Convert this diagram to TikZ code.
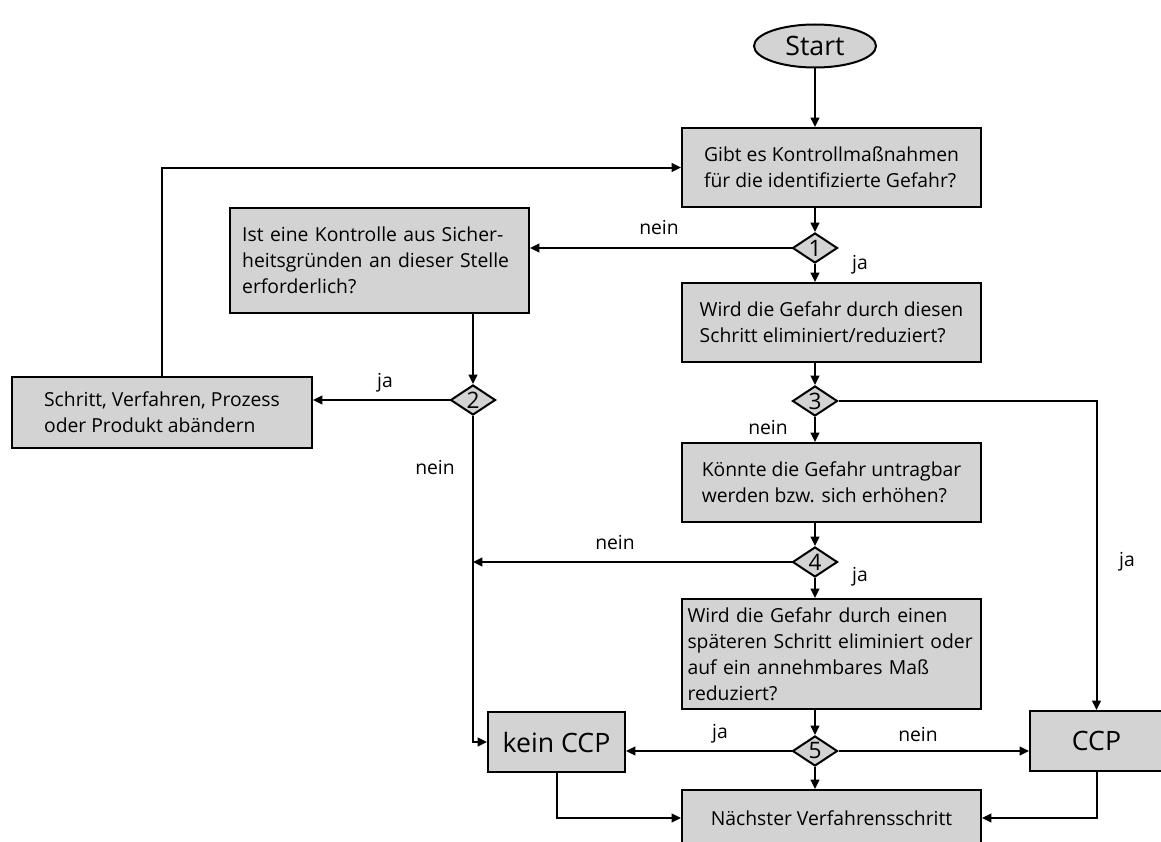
\documentclass[tikz,border=0pt]{standalone}
\usepackage{fontspec}
\setmainfont{Open Sans}
\usetikzlibrary{arrows.meta,shapes.geometric,positioning}
\definecolor{boxgray}{RGB}{211,211,211}
\newcommand{\jline}[1]{\makebox[\linewidth][s]{#1}}
\tikzset{
  box/.style={draw,fill=boxgray,line width=1.5pt,align=left,inner ysep=4pt,
    minimum width=224.25pt,font=\fontsize{14.5}{19.5}\selectfont},
  decision/.style={diamond,draw,fill=boxgray,line width=1.5pt,aspect=1.5,inner sep=0pt,
    minimum width=33.75pt,minimum height=22.5pt,font=\fontsize{17}{17}\selectfont},
  terminal/.style={ellipse,draw,fill=boxgray,line width=1.5pt,inner sep=0pt,
    minimum width=91.5pt,minimum height=32.25pt,font=\fontsize{20}{20}\selectfont},
  result/.style={draw,fill=boxgray,line width=1.5pt,inner sep=0pt,
    font=\fontsize{20}{20}\selectfont},
  lbl/.style={font=\fontsize{14.5}{17}\selectfont,inner sep=1pt},
  arr/.style={line width=1.5pt,-{Triangle[length=7pt,width=6.5pt]}}
}
\begin{document}
\begin{tikzpicture}[x=0.75pt,y=-0.75pt]
  \useasboundingbox (0,0) rectangle (1161,842);
  \clip (0,0) rectangle (1161,842);
  % main column
  \node[terminal] (start) at (815,46) {Start};
  \node[box,minimum height=59.25pt] (kontroll) at (831.5,167.5)
    {Gibt es Kontrollmaßnahmen\\für die identifizierte Gefahr?};
  \node[decision] (d1) at (815,248) {1};
  \node[box,minimum height=59.25pt] (elim) at (831.5,322.5)
    {Wird die Gefahr durch diesen\\Schritt eliminiert/reduziert?};
  \node[decision] (d3) at (815,401) {3};
  \node[box,minimum height=59.25pt] (untragbar) at (831.5,482.5)
    {Könnte die Gefahr untragbar\\werden bzw. sich erhöhen?};
  \node[decision] (d4) at (815,562) {4};
  \node[box,text width=216pt,inner xsep=4.2pt,minimum height=82.5pt] (spaeter) at (831.5,654)
    {\jline{Wird die Gefahr durch einen}\\\jline{späteren Schritt eliminiert oder}\\auf ein annehmbares Maß\\reduziert?};
  \node[decision] (d5) at (815,751) {5};
  \node[box,align=center,minimum height=42pt] (naechst) at (831.5,818)
    {Nächster Verfahrensschritt};
  % left branch
  \node[box,text width=206pt,inner xsep=9.1pt,minimum height=78.75pt] (sicher) at (379.5,260.5)
    {\jline{Ist eine Kontrolle aus Sicher-}\\\jline{heitsgründen an dieser Stelle}\\erforderlich?};
  \node[decision] (d2) at (473,400) {2};
  \node[box,minimum width=225pt,minimum height=53.25pt] (aendern) at (162,412.5)
    {Schritt, Verfahren, Prozess\\oder Produkt abändern};
  % results
  \node[result,minimum width=102.75pt,minimum height=45pt] (kein) at (556.5,742) {kein CCP};
  \node[result,minimum width=99.75pt,minimum height=45pt] (ccp) at (1096.5,741) {CCP};
  % labels
  \node[lbl] (l1n) at (659,227) {nein};
  \node[lbl] (l1j) at (860,265) {ja};
  \node[lbl] (l2j) at (385,383) {ja};
  \node[lbl] (l2n) at (435,467) {nein};
  \node[lbl] (l3n) at (768,427) {nein};
  \node[lbl] (l3j) at (1127,562) {ja};
  \node[lbl] (l4n) at (615,542) {nein};
  \node[lbl] (l4j) at (860,577) {ja};
  \node[lbl] (l5j) at (720,734) {ja};
  \node[lbl] (l5n) at (918,734) {nein};
  % connectors
  \draw[arr] (start) -- (start |- kontroll.north);
  \draw[arr] (kontroll.south -| d1) -- (d1);
  \draw[arr] (d1) -- (d1 |- elim.north);
  \draw[arr] (d1.west) -- (d1.west -| sicher.east);
  \draw[arr] (elim.south -| d3) -- (d3);
  \draw[arr] (d3) -- (d3 |- untragbar.north);
  \draw[arr] (d3.east) -| (ccp.north);
  \draw[arr] (untragbar.south -| d4) -- (d4);
  \draw[arr] (d4) -- (d4 |- spaeter.north);
  \draw[arr] (d4.west) -- (d4.west -| d2);
  \draw[arr] (spaeter.south -| d5) -- (d5);
  \draw[arr] (d5) -- (d5 |- naechst.north);
  \draw[arr] (d5.west) -- (d5.west -| kein.east);
  \draw[arr] (d5.east) -- (d5.east -| ccp.west);
  \draw[arr] (sicher.south -| d2) -- (d2);
  \draw[arr] (d2.west) -- (d2.west -| aendern.east);
  \draw[arr] (aendern.north) |- (kontroll.west);
  \draw[arr] (d2.south) |- (kein.west);
  \draw[arr] (kein.south) |- (naechst.west);
  \draw[arr] (ccp.south) |- (naechst.east);
\end{tikzpicture}
\end{document}
